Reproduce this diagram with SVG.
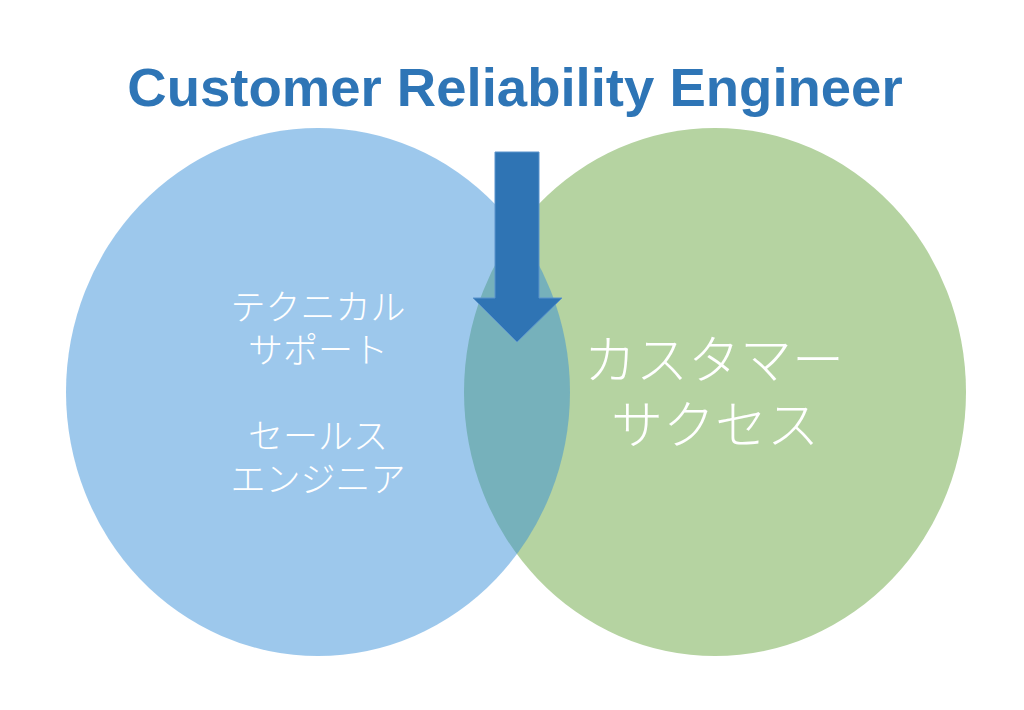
<svg xmlns="http://www.w3.org/2000/svg" width="1024" height="710" viewBox="0 0 1024 710">
<style>
.title{font-family:"Liberation Sans",Arial,sans-serif;font-weight:bold;font-size:54.5px;fill:#2E75B6;text-anchor:middle}
.jp{font-family:"Noto Sans CJK JP","Noto Sans",sans-serif;font-weight:300;fill:#FFFFFF;text-anchor:middle;dominant-baseline:central}
.small{font-size:35px}
.big{font-size:52px}
</style>
<rect width="1024" height="710" fill="#FFFFFF"/>
<g id="title"><text class="title" x="515" y="106">Customer Reliability Engineer</text></g>
<g id="customer-success">
<ellipse cx="715" cy="392" rx="251" ry="264" fill="#B5D3A1"/>
</g>
<g id="technical-support">
<ellipse cx="318" cy="392" rx="252" ry="264" fill="rgb(51,140,215)" fill-opacity="0.48"/>
<text class="jp small" x="318" y="304">テクニカル</text>
<text class="jp small" x="318" y="347">サポート</text>
<text class="jp small" x="318" y="433">セールス</text>
<text class="jp small" x="318" y="476">エンジニア</text>
</g>
<g id="customer-success-label">
<text class="jp big" x="714" y="356">カスタマー</text>
<text class="jp big" x="715" y="421">サクセス</text>
</g>
<g id="connectors">
<path d="M495,152 H539 V298 H562 L517,342 L473,298 H495 Z" fill="#2F74B4" stroke="#5A93CC" stroke-width="1"/>
</g>
</svg>
